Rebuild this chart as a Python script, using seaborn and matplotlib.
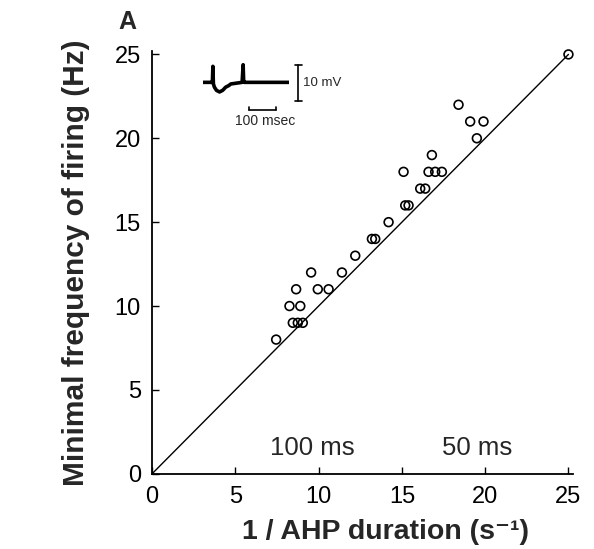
import matplotlib
matplotlib.use('Agg')
import matplotlib.pyplot as plt
import seaborn as sns
import pandas as pd

# values
ahp_rate = [7.45, 8.45, 8.75, 9.05, 8.25, 8.9, 8.65, 9.95, 10.6, 9.55,
            11.4, 12.2, 13.2, 13.4, 14.2, 15.2, 15.4, 16.1, 16.4, 15.1,
            16.6, 17.0, 17.4, 16.8, 18.4, 19.1, 19.9, 19.5, 25.0]
min_freq = [8, 9, 9, 9, 10, 10, 11, 11, 11, 12,
            12, 13, 14, 14, 15, 16, 16, 17, 17, 18,
            18, 18, 18, 19, 22, 21, 21, 20, 25]
identity_x = [0, 25]
identity_y = [0, 25]
ticks = [0, 5, 10, 15, 20, 25]
duration_labels = ['100 ms', '50 ms']
duration_x = [9.6, 19.5]

# inset trace (arbitrary units)
trace_t = [0, 8, 9, 9.5, 10, 11, 13, 16, 19, 22, 25, 27, 38, 39, 39.5, 40, 41, 60, 84]
trace_v = [0, 0, 0, 10, -1, -3, -5, -6, -5, -3, -2, -1, 0, 11, 1, 0, 0, 0, 0]

sns.set_theme(style='ticks')
plt.rcParams['font.family'] = ['Liberation Sans', 'DejaVu Sans']

df = pd.DataFrame({'rate': ahp_rate, 'freq': min_freq})

fig = plt.figure(figsize=(5.94, 5.49), dpi=100)
ax = fig.add_axes([0.256, 0.137, 0.708, 0.77])

sns.lineplot(x=identity_x, y=identity_y, ax=ax, color='black', linewidth=1.0)
sns.scatterplot(data=df, x='rate', y='freq', ax=ax, s=40, marker='o',
                facecolor='none', edgecolor='black', linewidth=1.2, clip_on=False)

ax.set_xlim(0, 25.25)
ax.set_ylim(0, 25.2)
ax.set_xticks(ticks)
ax.set_yticks(ticks)
ax.tick_params(direction='in', length=5, width=1, labelsize=17, colors='black')
ax.tick_params(axis='x', pad=9)
ax.tick_params(axis='y', pad=8)
for side in ['top', 'right']:
    ax.spines[side].set_visible(False)
for side in ['left', 'bottom']:
    ax.spines[side].set_linewidth(1.3)
    ax.spines[side].set_color('black')

ax.set_xlabel('1 / AHP duration (s⁻¹)', fontsize=20.5, fontweight='bold')
ax.set_ylabel('Minimal frequency of firing (Hz)', fontsize=21.5, fontweight='bold', labelpad=18)
# the x title sits a little right of centre in the original
ax.xaxis.set_label_coords(0.556, -0.106)

for lab, xpos in zip(duration_labels, duration_x):
    ax.text(xpos, 1.55, lab, fontsize=18.5, ha='center', va='center')

fig.text(0.215, 0.96, 'A', fontsize=18, fontweight='bold', ha='center', va='center')

# inset with an example trace
ins = fig.add_axes([0.342, 0.815, 0.145, 0.07])
ins.plot(trace_t, trace_v, color='black', linewidth=2.6)
ins.set_xlim(0, 84)
ins.set_ylim(-12, 12)
ins.axis('off')

fig.add_artist(plt.Line2D([0.502, 0.502], [0.816, 0.882], color='black', linewidth=1.2))
fig.add_artist(plt.Line2D([0.496, 0.508], [0.882, 0.882], color='black', linewidth=1.2))
fig.add_artist(plt.Line2D([0.496, 0.508], [0.816, 0.816], color='black', linewidth=1.2))
fig.text(0.51, 0.849, '10 mV', fontsize=9.5, va='center', ha='left')
fig.add_artist(plt.Line2D([0.419, 0.465], [0.8, 0.8], color='black', linewidth=1.2))
fig.add_artist(plt.Line2D([0.419, 0.419], [0.8, 0.806], color='black', linewidth=1.2))
fig.add_artist(plt.Line2D([0.465, 0.465], [0.8, 0.806], color='black', linewidth=1.2))
fig.text(0.446, 0.779, '100 msec', fontsize=10, va='center', ha='center')

fig.savefig('out.png', dpi=100, facecolor='white')
